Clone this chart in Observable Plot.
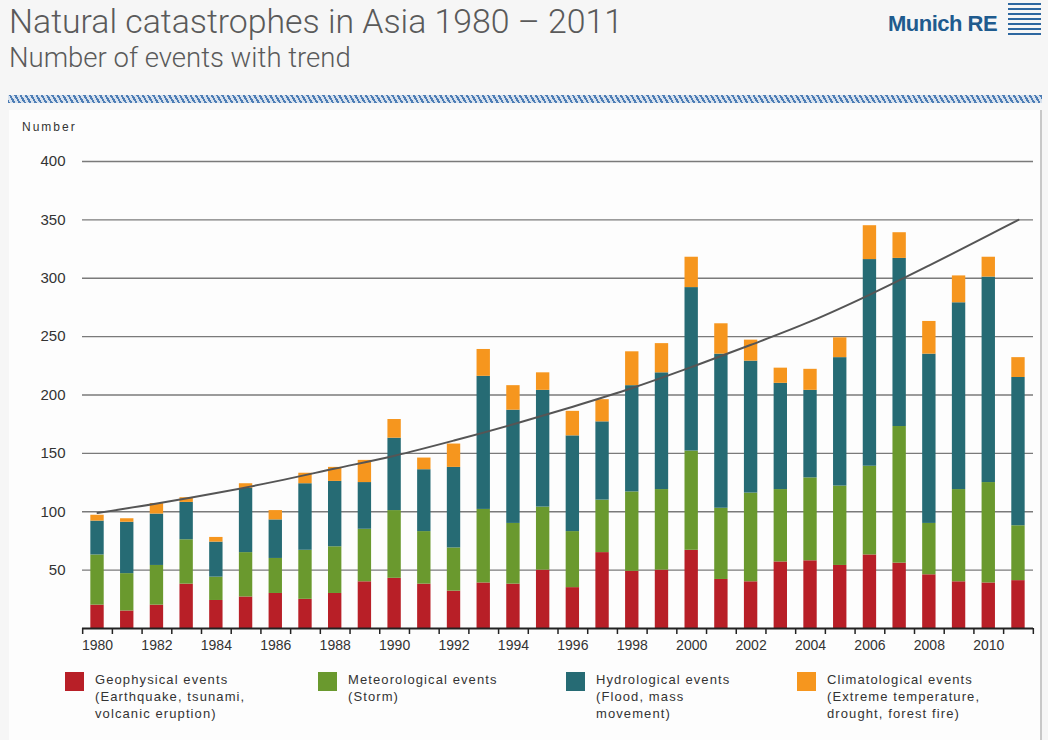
<!DOCTYPE html>
<html><head><meta charset="utf-8">
<script src="https://cdn.jsdelivr.net/npm/d3@7"></script>
<script src="https://cdn.jsdelivr.net/npm/@observablehq/plot@0.6"></script>
<style>
body{margin:0;width:1048px;height:740px;background:#f6f6f6;position:relative;overflow:hidden;font-family:"Liberation Sans",Arial,sans-serif;color:#333}
#title{position:absolute;left:9px;top:2px;font-family:Roboto,"Liberation Sans",sans-serif;font-weight:300;font-size:33.8px;color:#5a5a5a;white-space:nowrap}
#subtitle{position:absolute;left:9px;top:41px;font-family:Roboto,"Liberation Sans",sans-serif;font-weight:300;font-size:27.5px;color:#5a5a5a;white-space:nowrap}
#logo{position:absolute;left:888px;top:11px;font-weight:bold;font-size:22px;color:#1f5b8e;letter-spacing:-0.5px}
#logomark{position:absolute;left:1008px;top:3px;width:33px;height:34px;background:repeating-linear-gradient(180deg,#2d67a0 0 2.5px,transparent 2.5px 5px)}
#hatch{position:absolute;left:8px;top:95px;width:1034px;height:8px;background:repeating-linear-gradient(60deg,#4d7db5 0 2px,#d8e2ee 2px 4.6px)}
#panel{position:absolute;left:9px;top:110px;width:1031px;height:640px;background:#fdfdfd;border-right:2px solid #c8c8c8}
#ylabel{position:absolute;left:22px;top:120px;font-size:12px;color:#333;letter-spacing:2px}
#chart{position:absolute;left:0;top:140px}
.leg{position:absolute;top:672px;font-size:13px;line-height:17px;color:#333;letter-spacing:1.1px}
.leg .sw{position:absolute;left:0;top:0;width:19px;height:19px}
.leg .tx{position:absolute;left:30px;top:-1px;white-space:nowrap}
</style></head><body>
<div id="panel"></div>
<div id="title">Natural catastrophes in Asia 1980 – 2011</div>
<div id="subtitle">Number of events with trend</div>
<div id="logo">Munich RE</div><div id="logomark"></div>
<div id="hatch"></div>
<div id="ylabel">Number</div>
<div id="chart"></div>
<div id="legend"></div>
<script>
const years = [1980,1981,1982,1983,1984,1985,1986,1987,1988,1989,1990,1991,1992,1993,1994,1995,1996,1997,1998,1999,2000,2001,2002,2003,2004,2005,2006,2007,2008,2009,2010,2011];
const geophysical    = [20,15,20,38,24,27,30,25,30,40,43,38,32,39,38,50,35,65,49,50,67,42,40,57,58,54,63,56,46,40,39,41];
const meteorological = [43,32,34,38,20,38,30,42,40,45,58,45,37,63,52,54,48,45,68,69,85,61,76,62,71,68,76,117,44,79,86,47];
const hydrological   = [29,44,44,32,30,55,33,57,56,40,62,53,69,114,97,100,82,67,91,100,140,132,113,91,75,110,177,144,145,160,176,127];
const climatological = [5,3,9,4,4,4,8,9,12,19,16,10,20,23,21,15,21,19,29,25,26,26,18,13,18,17,29,22,28,23,17,17];
const trendYears  = [1980,1982,1984,1986,1988,1990,1992,1994,1996,1998,2000,2002,2004,2006,2008,2010,2011];
const trendValues = [99,107,116,126,137,148,161,175,190,206,224,243,263,286,311,337,350];
const types = ["Geophysical events","Meteorological events","Hydrological events","Climatological events"];
const typeNotes = [["(Earthquake, tsunami,","volcanic eruption)"],["(Storm)"],["(Flood, mass","movement)"],["(Extreme temperature,","drought, forest fire)"]];
const colors = ["#b81f27","#6a992e","#266b74","#f6961e"];
const yTicks = [50,100,150,200,250,300,350,400];
const xLabels = [1980,1982,1984,1986,1988,1990,1992,1994,1996,1998,2000,2002,2004,2006,2008,2010];

const series = [geophysical, meteorological, hydrological, climatological];
const rows = [];
years.forEach((yr, i) => series.forEach((s, k) => rows.push({year: yr, type: types[k], value: s[i]})));
const trend = trendYears.map((yr, i) => ({year: yr, value: trendValues[i]}));

const W = 1048, ML = 74, MR = 7, PAD = 0.55;
const step = (W - ML - MR) / (years.length - PAD + 2 * PAD);
// axis line & grid span from the first to the last category boundary
const edge = PAD * step / 2;
const insL = Math.round(edge), insR = Math.round(edge);

const chart = Plot.plot({
  width: W, height: 522,
  marginLeft: ML, marginRight: MR, marginTop: 21, marginBottom: 34,
  style: {background: "transparent", fontFamily: "'Liberation Sans', Arial, sans-serif", color: "#333"},
  x: {type: "band", domain: years, padding: PAD, align: 0.5, round: false},
  y: {domain: [0, 400]},
  color: {domain: types, range: colors},
  marks: [
    Plot.gridY(yTicks, {stroke: "#7a7a7a", strokeOpacity: 1, strokeWidth: 1.3, insetLeft: insL, insetRight: insR}),
    Plot.axisY(yTicks, {tickSize: 0, tickPadding: ML - 65, fontSize: 15, label: null}),
    Plot.barY(rows, {x: "year", y: "value", fill: "type"}),
    Plot.line(trend, {x: "year", y: "value", stroke: "#555", strokeWidth: 2, curve: "catmull-rom"}),
    Plot.ruleY([0], {stroke: "#222", strokeWidth: 2, insetLeft: insL, insetRight: insR}),
    Plot.ruleX(years, {x: d => d, y1: 0, y2: 0, dx: -step / 2, insetBottom: -6, stroke: "#222", strokeWidth: 1.5}),
    Plot.ruleX([years[years.length - 1]], {x: d => d, y1: 0, y2: 0, dx: step / 2, insetBottom: -6, stroke: "#222", strokeWidth: 1.5}),
    Plot.axisX(xLabels, {tickSize: 0, tickPadding: 12, fontSize: 14, label: null, tickFormat: d => String(d)})
  ]
});
document.getElementById("chart").appendChild(chart);

const legendX = [65, 318, 566, 797];
const legend = document.getElementById("legend");
types.forEach((t, k) => {
  const item = document.createElement("div");
  item.className = "leg";
  item.style.left = legendX[k] + "px";
  const sw = document.createElement("div");
  sw.className = "sw"; sw.style.background = colors[k];
  const tx = document.createElement("div");
  tx.className = "tx";
  tx.innerHTML = [t, ...typeNotes[k]].join("<br>");
  item.appendChild(sw); item.appendChild(tx);
  legend.appendChild(item);
});
</script>
</body></html>
